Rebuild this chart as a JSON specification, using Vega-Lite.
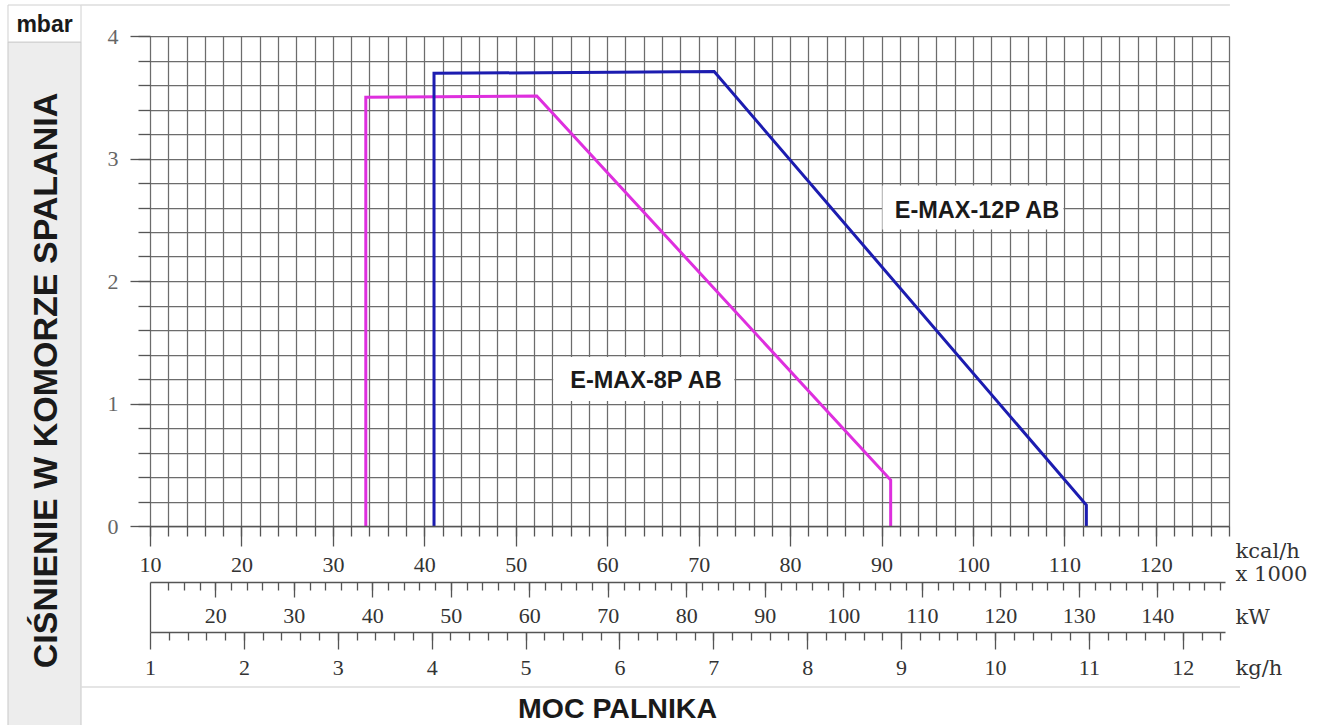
{
  "$schema": "https://vega.github.io/schema/vega-lite/v6.json",
  "width": 1079,
  "height": 490,
  "autosize": {"type": "none"},
  "padding": {"left": 150, "top": 36, "right": 94, "bottom": 199},
  "background": "white",
  "config": {
    "view": {"stroke": null},
    "axis": {
      "labelFont": "Liberation Serif",
      "labelFontSize": 22,
      "labelColor": "#333333",
      "tickColor": "#555555",
      "tickWidth": 1.3,
      "domainColor": "#555555",
      "domainWidth": 1.3,
      "labelFlush": false,
      "labelOverlap": false,
      "titleFont": "Liberation Sans",
      "grid": false
    }
  },
  "datasets": {
    "curves": [
      {"model": "E-MAX-8P AB", "i": 0, "kcal": 33.6, "mbar": 0},
      {"model": "E-MAX-8P AB", "i": 1, "kcal": 33.6, "mbar": 3.5},
      {"model": "E-MAX-8P AB", "i": 2, "kcal": 52.3, "mbar": 3.51},
      {"model": "E-MAX-8P AB", "i": 3, "kcal": 91.0, "mbar": 0.375},
      {"model": "E-MAX-8P AB", "i": 4, "kcal": 91.0, "mbar": 0},
      {"model": "E-MAX-12P AB", "i": 0, "kcal": 41.06, "mbar": 0},
      {"model": "E-MAX-12P AB", "i": 1, "kcal": 41.06, "mbar": 3.695},
      {"model": "E-MAX-12P AB", "i": 2, "kcal": 71.7, "mbar": 3.71},
      {"model": "E-MAX-12P AB", "i": 3, "kcal": 112.4, "mbar": 0.171},
      {"model": "E-MAX-12P AB", "i": 4, "kcal": 112.4, "mbar": 0}
    ],
    "labels": [
      {"text": "E-MAX-8P AB", "kcal": 64.24, "mbar": 1.184, "kcal_lo": 54.1, "kcal_hi": 73.9, "mbar_lo": 1.02, "mbar_hi": 1.38},
      {"text": "E-MAX-12P AB", "kcal": 100.44, "mbar": 2.571, "kcal_lo": 90.1, "kcal_hi": 109.9, "mbar_lo": 2.42, "mbar_hi": 2.78}
    ],
    "frame": [
      {"part": "panel", "x1": -5.53, "x2": 2.455, "y1": 3.951, "y2": -1.7},
      {"part": "mbarbox", "x1": -5.53, "x2": 2.455, "y1": 4.253, "y2": 3.951},
      {"part": "topline", "x1": 2.455, "x2": 128.1, "y1": 4.253},
      {"part": "baseline", "x1": 2.455, "x2": 129.2, "y1": -1.314}
    ],
    "scales": [
      {"unit": "kW", "lo": 11.68},
      {"unit": "kg/h", "lo": 1}
    ]
  },
  "layer": [
    {
      "data": {"name": "frame"},
      "transform": [{"filter": "datum.part == 'panel'"}],
      "mark": {"type": "rect", "fill": "#ededed", "stroke": "#c8c8c8", "strokeWidth": 1},
      "encoding": {
        "x": {"field": "x1", "type": "quantitative", "scale": {"domain": [10, 128], "nice": false}, "axis": null},
        "x2": {"field": "x2"},
        "y": {"field": "y1", "type": "quantitative", "scale": {"domain": [0, 4], "nice": false}, "axis": null},
        "y2": {"field": "y2"}
      }
    },
    {
      "data": {"name": "frame"},
      "transform": [{"filter": "datum.part == 'mbarbox'"}],
      "mark": {"type": "rect", "fill": "white", "stroke": "#d0d0d0", "strokeWidth": 1},
      "encoding": {
        "x": {"field": "x1", "type": "quantitative", "scale": {"domain": [10, 128], "nice": false}, "axis": null},
        "x2": {"field": "x2"},
        "y": {"field": "y1", "type": "quantitative", "scale": {"domain": [0, 4], "nice": false}, "axis": null},
        "y2": {"field": "y2"}
      }
    },
    {
      "data": {"name": "frame"},
      "transform": [{"filter": "datum.part == 'topline' || datum.part == 'baseline'"}],
      "mark": {"type": "rule", "color": "#dddddd", "strokeWidth": 1.5},
      "encoding": {
        "x": {"field": "x1", "type": "quantitative", "scale": {"domain": [10, 128], "nice": false}, "axis": null},
        "x2": {"field": "x2"},
        "y": {"field": "y1", "type": "quantitative", "scale": {"domain": [0, 4], "nice": false}, "axis": null}
      }
    },
    {
      "data": {"name": "curves"},
      "mark": {"type": "point", "opacity": 0},
      "encoding": {
        "x": {"field": "kcal", "type": "quantitative", "scale": {"domain": [10, 128], "nice": false},
          "axis": {"orient": "bottom", "values": [10,12,14,16,18,20,22,24,26,28,30,32,34,36,38,40,42,44,46,48,50,52,54,56,58,60,62,64,66,68,70,72,74,76,78,80,82,84,86,88,90,92,94,96,98,100,102,104,106,108,110,112,114,116,118,120,122,124,126,128],
            "grid": true, "gridColor": "#6c6c6c", "gridWidth": 1.25, "ticks": false, "labels": false, "domain": false, "title": null, "zindex": 0}},
        "y": {"field": "mbar", "type": "quantitative", "scale": {"domain": [0, 4], "nice": false},
          "axis": {"orient": "left", "values": [0,0.2,0.4,0.6,0.8,1,1.2,1.4,1.6,1.8,2,2.2,2.4,2.6,2.8,3,3.2,3.4,3.6,3.8,4],
            "grid": true, "gridColor": "#6c6c6c", "gridWidth": 1.25, "ticks": false, "labels": false, "domain": false, "title": null, "zindex": 0}}
      }
    },
    {
      "data": {"name": "curves"},
      "mark": {"type": "line", "strokeWidth": 3},
      "encoding": {
        "x": {"field": "kcal", "type": "quantitative", "scale": {"domain": [10, 128], "nice": false}, "axis": null},
        "y": {"field": "mbar", "type": "quantitative", "scale": {"domain": [0, 4], "nice": false}, "axis": null},
        "color": {"field": "model", "type": "nominal", "scale": {"domain": ["E-MAX-8P AB", "E-MAX-12P AB"], "range": ["#de2fde", "#1c1cb0"]}, "legend": null},
        "order": {"field": "i", "type": "quantitative"}
      }
    },
    {
      "data": {"name": "labels"},
      "mark": {"type": "rect", "fill": "white"},
      "encoding": {
        "x": {"field": "kcal_lo", "type": "quantitative", "scale": {"domain": [10, 128], "nice": false}, "axis": null},
        "x2": {"field": "kcal_hi"},
        "y": {"field": "mbar_lo", "type": "quantitative", "scale": {"domain": [0, 4], "nice": false}, "axis": null},
        "y2": {"field": "mbar_hi"}
      }
    },
    {
      "data": {"name": "labels"},
      "mark": {"type": "text", "font": "Liberation Sans", "fontWeight": "bold", "fontSize": 23.5, "color": "#1a1a1a", "align": "center", "baseline": "middle"},
      "encoding": {
        "x": {"field": "kcal", "type": "quantitative", "scale": {"domain": [10, 128], "nice": false}, "axis": null},
        "y": {"field": "mbar", "type": "quantitative", "scale": {"domain": [0, 4], "nice": false}, "axis": null},
        "text": {"field": "text"}
      }
    },
    {
      "data": {"name": "curves"},
      "mark": {"type": "point", "opacity": 0},
      "encoding": {
        "x": {"field": "kcal", "type": "quantitative", "scale": {"domain": [10, 128], "nice": false},
          "axis": {"orient": "bottom", "values": [10,12,14,16,18,20,22,24,26,28,30,32,34,36,38,40,42,44,46,48,50,52,54,56,58,60,62,64,66,68,70,72,74,76,78,80,82,84,86,88,90,92,94,96,98,100,102,104,106,108,110,112,114,116,118,120,122,124,126,128],
            "tickSize": 10, "labels": false, "domain": true, "zindex": 1,
            "title": "MOC PALNIKA", "titleX": 467, "titleY": 182, "titleAlign": "center", "titleBaseline": "middle",
            "titleFontSize": 28.5, "titleFontWeight": "bold", "titleColor": "#1a1a1a"}},
        "y": {"field": "mbar", "type": "quantitative", "scale": {"domain": [0, 4], "nice": false},
          "axis": {"orient": "left", "values": [0,0.2,0.4,0.6,0.8,1,1.2,1.4,1.6,1.8,2,2.2,2.4,2.6,2.8,3,3.2,3.4,3.6,3.8,4],
            "tickSize": 12, "labels": false, "domain": false, "zindex": 1,
            "title": "mbar", "titleAngle": 0, "titleX": -106, "titleY": -12, "titleAlign": "center", "titleBaseline": "middle",
            "titleFontSize": 23, "titleFontWeight": "bold", "titleColor": "#1a1a1a"}}
      }
    },
    {
      "data": {"name": "curves"},
      "mark": {"type": "point", "opacity": 0},
      "encoding": {
        "x": {"field": "kcal", "type": "quantitative", "scale": {"domain": [10, 128], "nice": false},
          "axis": {"orient": "bottom", "values": [10,20,30,40,50,60,70,80,90,100,110,120],
            "tickSize": 20, "labelPadding": 8, "domain": false, "zindex": 1,
            "title": ["kcal/h", "x 1000"], "titleX": 1085, "titleY": 14, "titleAlign": "left", "titleBaseline": "top",
            "titleLineHeight": 23, "titleFont": "DejaVu Serif", "titleFontSize": 21, "titleFontWeight": "normal", "titleColor": "#333333"}},
        "y": {"field": "mbar", "type": "quantitative", "scale": {"domain": [0, 4], "nice": false},
          "axis": {"orient": "left", "values": [0,1,2,3,4],
            "tickSize": 20, "labelPadding": 12, "labelColor": "#666666", "domain": false, "zindex": 1,
            "title": "CIŚNIENIE W KOMORZE SPALANIA", "titleAngle": 270, "titleX": -104, "titleY": 344, "titleAlign": "center", "titleBaseline": "middle",
            "titleFontSize": 34, "titleFontWeight": "bold", "titleColor": "#1a1a1a"}}
      }
    },
    {
      "data": {"name": "scales"},
      "transform": [{"filter": "datum.unit == 'kW'"}],
      "mark": {"type": "rule", "opacity": 0},
      "encoding": {
        "x": {"field": "lo", "type": "quantitative", "scale": {"domain": [11.68, 148.62], "range": [0, 1075], "nice": false},
          "axis": {"orient": "bottom", "offset": 56, "values": [14,16,18,20,22,24,26,28,30,32,34,36,38,40,42,44,46,48,50,52,54,56,58,60,62,64,66,68,70,72,74,76,78,80,82,84,86,88,90,92,94,96,98,100,102,104,106,108,110,112,114,116,118,120,122,124,126,128,130,132,134,136,138,140,142,144,146,148],
            "tickSize": 8, "labels": false, "domain": true, "zindex": 1,
            "title": "kW", "titleX": 1085, "titleY": 35, "titleAlign": "left", "titleBaseline": "middle",
            "titleFont": "DejaVu Serif", "titleFontSize": 21, "titleFontWeight": "normal", "titleColor": "#333333"}}
      }
    },
    {
      "data": {"name": "scales"},
      "transform": [{"filter": "datum.unit == 'kW'"}],
      "mark": {"type": "rule", "opacity": 0},
      "encoding": {
        "x": {"field": "lo", "type": "quantitative", "scale": {"domain": [11.68, 148.62], "range": [0, 1075], "nice": false},
          "axis": {"orient": "bottom", "offset": 56, "values": [20,30,40,50,60,70,80,90,100,110,120,130,140],
            "tickSize": 15, "labelPadding": 8, "domain": false, "zindex": 1, "title": null}}
      }
    },
    {
      "data": {"name": "scales"},
      "transform": [{"filter": "datum.unit == 'kW'"}],
      "mark": {"type": "rule", "opacity": 0},
      "encoding": {
        "x": {"field": "lo", "type": "quantitative", "scale": {"domain": [11.68, 148.62], "range": [0, 1075], "nice": false},
          "axis": {"orient": "bottom", "offset": 56, "values": [11.68],
            "tickSize": 50, "labels": false, "domain": false, "zindex": 1, "title": null}}
      }
    },
    {
      "data": {"name": "scales"},
      "transform": [{"filter": "datum.unit == 'kg/h'"}],
      "mark": {"type": "rule", "opacity": 0},
      "encoding": {
        "x": {"field": "lo", "type": "quantitative", "scale": {"domain": [1, 12.45], "range": [0, 1075], "nice": false},
          "axis": {"orient": "bottom", "offset": 106, "values": [1.2,1.4,1.6,1.8,2,2.2,2.4,2.6,2.8,3,3.2,3.4,3.6,3.8,4,4.2,4.4,4.6,4.8,5,5.2,5.4,5.6,5.8,6,6.2,6.4,6.6,6.8,7,7.2,7.4,7.6,7.8,8,8.2,8.4,8.6,8.8,9,9.2,9.4,9.6,9.8,10,10.2,10.4,10.6,10.8,11,11.2,11.4,11.6,11.8,12,12.2,12.4],
            "tickSize": 8, "labels": false, "domain": true, "zindex": 1,
            "title": "kg/h", "titleX": 1085, "titleY": 36, "titleAlign": "left", "titleBaseline": "middle",
            "titleFont": "DejaVu Serif", "titleFontSize": 21, "titleFontWeight": "normal", "titleColor": "#333333"}}
      }
    },
    {
      "data": {"name": "scales"},
      "transform": [{"filter": "datum.unit == 'kg/h'"}],
      "mark": {"type": "rule", "opacity": 0},
      "encoding": {
        "x": {"field": "lo", "type": "quantitative", "scale": {"domain": [1, 12.45], "range": [0, 1075], "nice": false},
          "axis": {"orient": "bottom", "offset": 106, "values": [1,2,3,4,5,6,7,8,9,10,11,12],
            "tickSize": 17, "labelPadding": 8, "domain": false, "zindex": 1, "title": null}}
      }
    }
  ],
  "resolve": {
    "scale": {"x": "independent", "y": "independent"},
    "axis": {"x": "independent", "y": "independent"}
  }
}
